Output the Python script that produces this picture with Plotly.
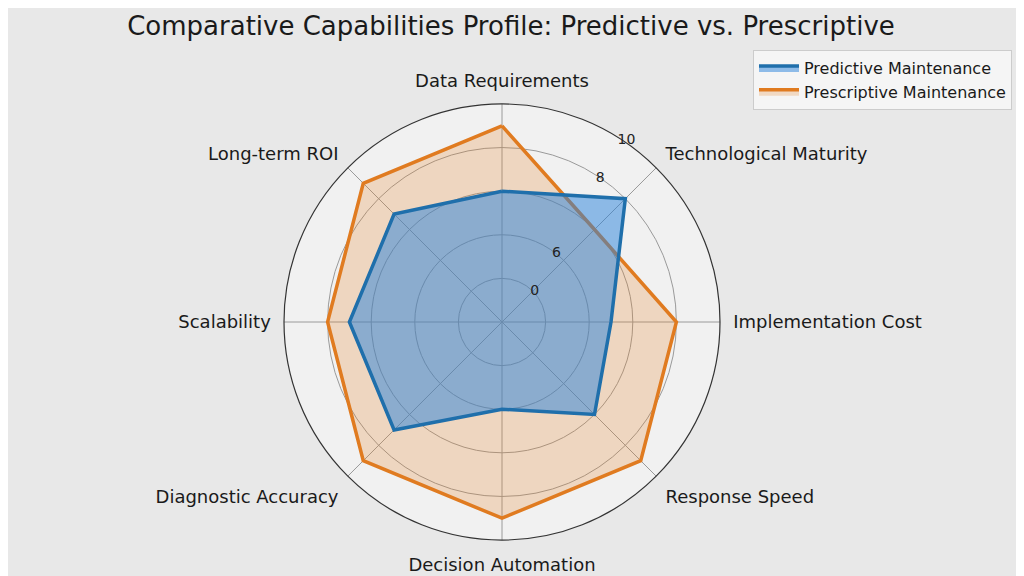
import plotly.graph_objects as go

categories = ["Data Requirements", "Technological Maturity", "Implementation Cost",
              "Response Speed", "Decision Automation", "Diagnostic Accuracy",
              "Scalability", "Long-term ROI"]
predictive = [6, 8, 5, 6, 4, 7, 7, 7]
prescriptive = [9, 6, 8, 9, 9, 9, 8, 9]

radial_tickvals = [2, 4, 6, 8, 10]
radial_ticktext = ["0", "6", "", "8", "10"]

title_text = "Comparative Capabilities Profile: Predictive vs. Prescriptive"
series_names = ["Predictive Maintenance", "Prescriptive Maintenance"]

FONT = "DejaVu Sans"
BLUE = "#1f6fab"
ORANGE = "#e07b20"

def closed(v):
    return list(v) + [v[0]]

fig = go.Figure()
fig.add_trace(go.Scatterpolar(
    r=closed(prescriptive), theta=closed(categories), name=series_names[1],
    mode="lines", fill="toself", fillcolor="rgba(232,128,36,0.24)",
    line=dict(color=ORANGE, width=3.5), legendrank=2,
))
fig.add_trace(go.Scatterpolar(
    r=closed(predictive), theta=closed(categories), name=series_names[0],
    mode="lines", fill="toself", fillcolor="rgba(40,130,220,0.5)",
    line=dict(color=BLUE, width=3.5), legendrank=1,
))

fig.update_layout(
    width=1024, height=576,
    paper_bgcolor="#e8e8e8",
    margin=dict(l=0, r=36, t=96, b=44, autoexpand=False),
    font=dict(family=FONT, color="#1a1a1a"),
    title=dict(text=title_text, x=503 / 1024, xref="container", xanchor="center",
               y=1 - 18 / 576, yref="container", yanchor="middle",
               font=dict(size=26, family=FONT, color="#1a1a1a")),
    legend=dict(xref="container", yref="container", x=1004 / 1024, y=1 - 42 / 576,
                xanchor="right", yanchor="top", bgcolor="rgba(246,246,246,0.95)",
                bordercolor="#cccccc", borderwidth=1, font=dict(size=16, family=FONT),
                traceorder="normal", itemwidth=40),
    showlegend=True,
    polar=dict(
        bgcolor="#f1f1f1",
        angularaxis=dict(direction="clockwise", rotation=90,
                         tickfont=dict(size=18, family=FONT, color="#1a1a1a"),
                         showline=True, linecolor="#333333", linewidth=1.2,
                         gridcolor="#9a9a9a", gridwidth=1,
                         ticks="outside", ticklen=9, tickcolor="rgba(0,0,0,0)"),
        radialaxis=dict(range=[0, 10], tickvals=radial_tickvals, ticktext=radial_ticktext,
                        angle=60, tickangle=60, showline=False, ticks="",
                        gridcolor="#9a9a9a", gridwidth=1,
                        tickfont=dict(size=14, family=FONT, color="#222222")),
    ),
)

fig.write_html("out.html")
